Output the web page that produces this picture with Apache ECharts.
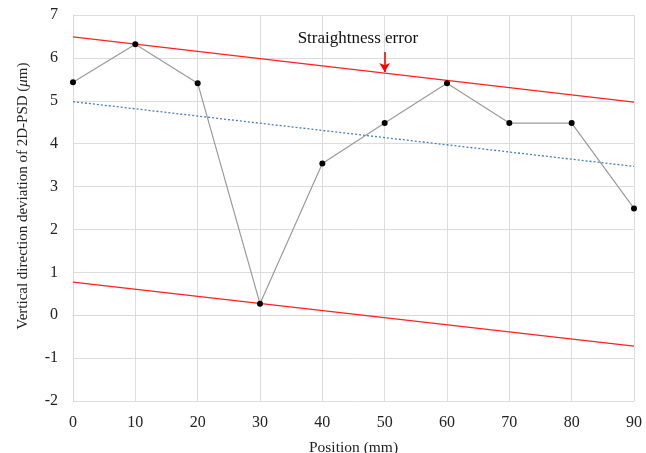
<!DOCTYPE html>
<html><head><meta charset="utf-8">
<script src="https://cdn.jsdelivr.net/npm/echarts@6/dist/echarts.min.js"></script>
<style>html,body{margin:0;padding:0;background:#fff}#c{width:646px;height:453px}</style>
</head><body><div id="c"></div>
<script>
const positions = [0, 10, 20, 30, 40, 50, 60, 70, 80, 90];
const deviation = [5.43, 6.32, 5.41, 0.27, 3.54, 4.48, 5.41, 4.48, 4.48, 2.49];
const upperLine = [[0, 6.49], [90, 4.97]];
const lowerLine = [[0, 0.77], [90, -0.72]];
const fitLine = [[0, 4.98], [90, 3.47]];
const arrowFrom = [50, 6.14];
const arrowTo = [50, 5.67];
const annotationAt = [45.7, 6.46];
const annotationText = 'Straightness error';

const font = 'Liberation Serif, Times New Roman, serif';
const chart = echarts.init(document.getElementById('c'));
chart.setOption({
  animation: false,
  grid: { left: 73, right: 12, top: 15, bottom: 52, outerBoundsMode: 'none', containLabel: false },
  xAxis: {
    type: 'value', min: 0, max: 90, interval: 10,
    name: 'Position (mm)', nameLocation: 'middle', nameGap: 39,
    nameTextStyle: { fontFamily: font, fontSize: 15.5, color: '#222' },
    axisLine: { show: true, lineStyle: { color: '#d9d9d9' } },
    axisTick: { show: false },
    axisLabel: { fontFamily: font, fontSize: 16, color: '#222', margin: 14 },
    splitLine: { show: true, lineStyle: { color: '#dcdcdc' } }
  },
  yAxis: {
    type: 'value', min: -2, max: 7, interval: 1,
    name: '{n|Vertical direction deviation of 2D-PSD (}{i|μ}{n|m)}',
    nameLocation: 'middle', nameGap: 42, nameRotate: 90,
    nameTextStyle: { fontFamily: font, fontSize: 15, color: '#222', padding: [0, 0, 0, 24],
      rich: { n: { fontFamily: font, fontSize: 15, color: '#222' },
              i: { fontFamily: font, fontSize: 15, color: '#222', fontStyle: 'italic' } } },
    axisLine: { show: true, lineStyle: { color: '#d9d9d9' } },
    axisTick: { show: false },
    axisLabel: { fontFamily: font, fontSize: 16, color: '#222', margin: 15 },
    splitLine: { show: true, lineStyle: { color: '#dcdcdc' } }
  },
  series: [
    { type: 'line', data: upperLine, symbol: 'none', lineStyle: { color: '#ff2020', width: 1.3 }, z: 3,
      markLine: {
        silent: true, symbol: ['none', 'arrow'], symbolSize: [8, 9],
        lineStyle: { color: '#ff0000', width: 1.6, type: 'solid' },
        label: { show: false },
        data: [[{ coord: arrowFrom }, { coord: arrowTo }]]
      },
      markPoint: {
        silent: true, symbol: 'circle', symbolSize: 1,
        itemStyle: { color: 'rgba(0,0,0,0)' },
        label: { show: true, position: 'inside', formatter: annotationText,
                 fontFamily: font, fontSize: 17, color: '#111' },
        data: [{ coord: annotationAt }]
      } },
    { type: 'line', data: lowerLine, symbol: 'none', lineStyle: { color: '#ff2020', width: 1.3 }, z: 3 },
    { type: 'line', data: fitLine, symbol: 'none', lineStyle: { color: '#4a7cc4', width: 1.3, type: [2, 2] }, z: 3 },
    { type: 'line', data: positions.map((p, i) => [p, deviation[i]]),
      symbol: 'circle', symbolSize: 6,
      itemStyle: { color: '#000' }, lineStyle: { color: '#9a9a9a', width: 1.2 }, z: 4 }
  ]
});
</script></body></html>
